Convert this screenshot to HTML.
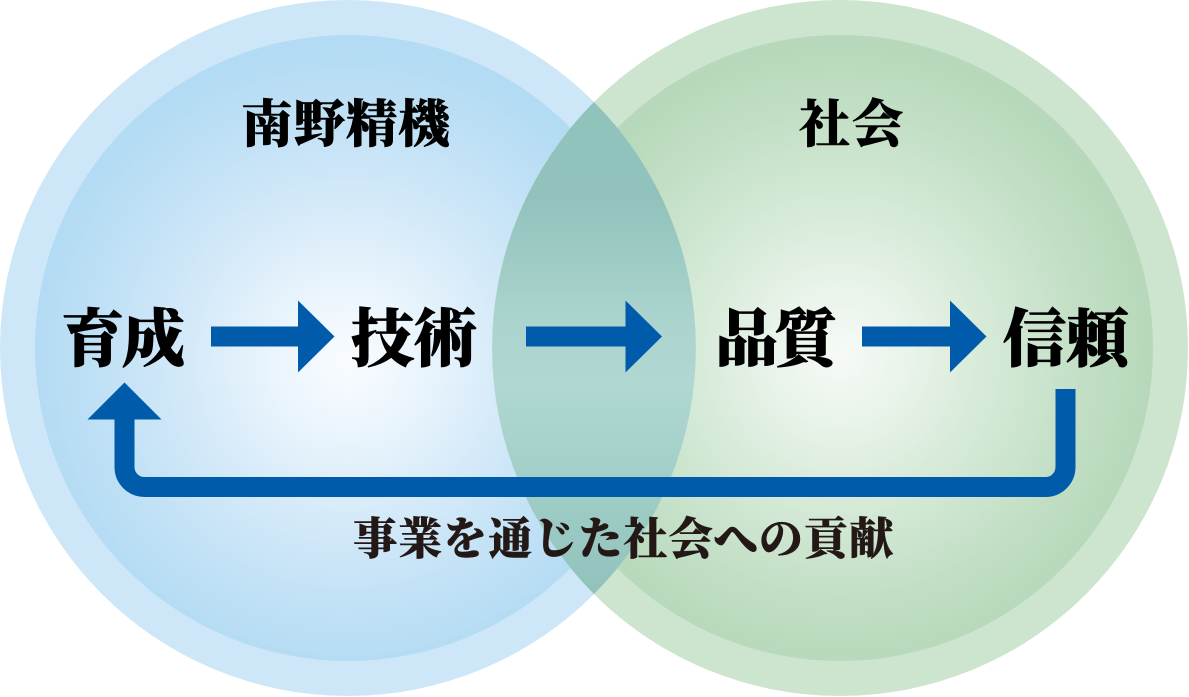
<!DOCTYPE html>
<html lang="ja">
<head>
<meta charset="utf-8">
<style>
  html, body { margin:0; padding:0; background:#ffffff; }
  body { width:1189px; height:697px; overflow:hidden; }
  svg { display:block; }
  .t { font-family: "Liberation Serif", "Noto Serif CJK JP", "Noto Serif CJK SC", serif; font-weight:900; }
</style>
</head>
<body>
<svg width="1189" height="697" viewBox="0 0 1189 697" xmlns="http://www.w3.org/2000/svg">
  <defs>
    <radialGradient id="gb" cx="348" cy="362" r="313" gradientUnits="userSpaceOnUse">
      <stop offset="0" stop-color="#f9fcff"/>
      <stop offset="0.2" stop-color="#edf6fd"/>
      <stop offset="0.5" stop-color="#d5eaf9"/>
      <stop offset="0.78" stop-color="#c1e1f6"/>
      <stop offset="1" stop-color="#b3dbf3"/>
    </radialGradient>
    <radialGradient id="gg" cx="840" cy="355" r="313" gradientUnits="userSpaceOnUse">
      <stop offset="0" stop-color="#f6faf6"/>
      <stop offset="0.2" stop-color="#eaf4eb"/>
      <stop offset="0.5" stop-color="#d4e9d6"/>
      <stop offset="0.78" stop-color="#c2dfc5"/>
      <stop offset="1" stop-color="#b7d8ba"/>
    </radialGradient>
    <linearGradient id="gl" x1="0" y1="102" x2="0" y2="594" gradientUnits="userSpaceOnUse">
      <stop offset="0" stop-color="#90c3bc"/>
      <stop offset="0.2" stop-color="#91c3bc"/>
      <stop offset="0.45" stop-color="#acd4ce"/>
      <stop offset="0.58" stop-color="#b0d7d1"/>
      <stop offset="0.8" stop-color="#9fcdc6"/>
      <stop offset="1" stop-color="#90c2bb"/>
    </linearGradient>
  </defs>

  <!-- left circle -->
  <circle cx="348" cy="348" r="348" fill="#cde7f8"/>
  <circle cx="348" cy="348" r="313" fill="url(#gb)"/>
  <!-- right circle -->
  <circle cx="840" cy="348" r="348" fill="#cde4cf"/>
  <circle cx="840" cy="348" r="313" fill="url(#gg)"/>
  <!-- overlap lens -->
  <path d="M594 102 A348 348 0 0 1 594 594 A348 348 0 0 1 594 102 Z" fill="url(#gl)"/>

  <!-- titles -->
  <text class="t" x="345.5" y="142" font-size="51" text-anchor="middle" textLength="208" lengthAdjust="spacing" fill="#000" stroke="#000" stroke-width="0.6">南野精機</text>
  <text class="t" x="851" y="142" font-size="51" text-anchor="middle" textLength="104" lengthAdjust="spacing" fill="#000" stroke="#000" stroke-width="0.6">社会</text>

  <!-- main labels -->
  <text class="t" x="123" y="361" font-size="63" text-anchor="middle" textLength="124" lengthAdjust="spacing" fill="#000" stroke="#000" stroke-width="0.8">育成</text>
  <text class="t" x="414" y="361" font-size="63" text-anchor="middle" textLength="126" lengthAdjust="spacing" fill="#000" stroke="#000" stroke-width="0.8">技術</text>
  <text class="t" x="776" y="361" font-size="63" text-anchor="middle" textLength="122" lengthAdjust="spacing" fill="#000" stroke="#000" stroke-width="0.8">品質</text>
  <text class="t" x="1066" y="361" font-size="63" text-anchor="middle" textLength="126" lengthAdjust="spacing" fill="#000" stroke="#000" stroke-width="0.8">信頼</text>

  <!-- arrows -->
  <g fill="#005bab">
    <rect x="211" y="326.5" width="88" height="20"/>
    <polygon points="298,300.5 334.5,336.5 298,372.5"/>
    <rect x="526" y="326.5" width="100.5" height="20"/>
    <polygon points="625.5,300.5 662,336.5 625.5,372.5"/>
    <rect x="862" y="326.5" width="89" height="20"/>
    <polygon points="950,300.5 986.5,336.5 950,372.5"/>
    <polygon points="87.5,419.5 161.5,419.5 124.5,382.5"/>
  </g>
  <path d="M1065.5 389 V467 A20 20 0 0 1 1045.5 487 H144.5 A20 20 0 0 1 124.5 467 V418" fill="none" stroke="#005bab" stroke-width="20"/>

  <!-- bottom label -->
  <text class="t" x="623" y="554" font-size="44" text-anchor="middle" textLength="540" lengthAdjust="spacing" fill="#231815" stroke="#231815" stroke-width="0.5">事業を通じた社会への貢献</text>
</svg>
</body>
</html>
